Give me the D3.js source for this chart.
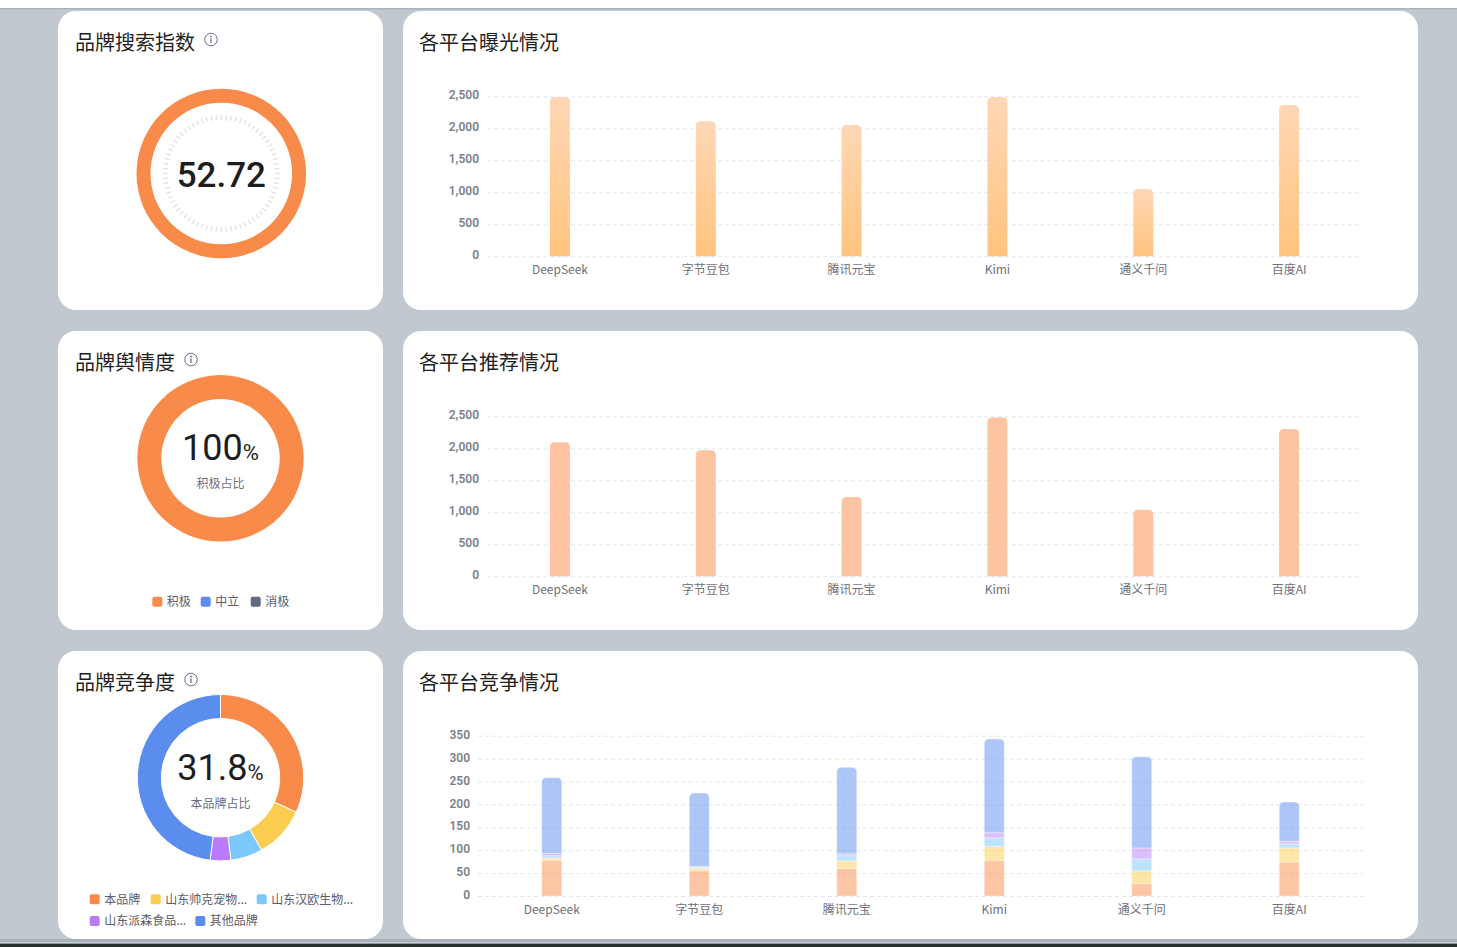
<!DOCTYPE html>
<html><head><meta charset="utf-8">
<script src="https://cdn.jsdelivr.net/npm/d3@7"></script>
<style>body{margin:0;background:#c1c8d0;overflow:hidden} svg{display:block}</style>
</head><body>
<svg id="c" width="1457" height="947"></svg>
<script>
// ---------- data ----------
const platforms = ["DeepSeek", "字节豆包", "腾讯元宝", "Kimi", "通义千问", "百度AI"];
const exposure = [2490, 2110, 2050, 2490, 1050, 2365];
const recommend = [2095, 1970, 1240, 2480, 1040, 2300];
const countTicks = [0, 500, 1000, 1500, 2000, 2500];
const compTicks = [0, 50, 100, 150, 200, 250, 300, 350];
const brandNames = ["本品牌", "山东帅克宠物...", "山东汉欧生物...", "山东派森食品...", "其他品牌"];
const compOwn = [78, 55, 60, 78, 27, 74];
const compShuaike = [5, 5, 17, 30, 28, 31];
const compHanou = [5, 3, 11, 19, 26, 9];
const compPaisen = [5, 2, 4, 11, 24, 5];
const compOther = [166, 160, 189, 205, 199, 86];
const competitionShare = [31.8, 10.0, 6.2, 4.0, 48.0];
const sentimentNames = ["积极", "中立", "消极"];
const sentimentValues = [100, 0, 0];
const searchIndex = 52.72;
const titles = ["品牌搜索指数", "各平台曝光情况", "品牌舆情度", "各平台推荐情况", "品牌竞争度", "各平台竞争情况"];

// ---------- styles ----------
const CJK = '"Noto Sans CJK SC","Noto Sans",sans-serif';
const NUM = 'Roboto,"Noto Sans",sans-serif';
const brandColors = ["#F98B4A", "#FACC50", "#7CC7FC", "#B87BFA", "#5B8DEF"];
const sentimentColors = ["#F98B4A", "#5B8DEF", "#646A84"];

const svg = d3.select('#c');
svg.append('rect').attr('width', 1457).attr('height', 947).attr('fill', '#c1c8d0');
svg.append('rect').attr('width', 1457).attr('height', 8).attr('fill', '#ffffff');
svg.append('rect').attr('y', 8).attr('width', 1457).attr('height', 1.5).attr('fill', '#aab2bd');
svg.append('rect').attr('y', 939).attr('width', 1457).attr('height', 3.6).attr('fill', '#a9b1bc');
svg.append('rect').attr('y', 942.6).attr('width', 1457).attr('height', 1).attr('fill', '#e9edf0');
svg.append('rect').attr('y', 943.6).attr('width', 1457).attr('height', 4).attr('fill', '#26302c');

const defs = svg.append('defs');
const grad = defs.append('linearGradient').attr('id', 'expGrad').attr('x1', 0).attr('y1', 0).attr('x2', 0).attr('y2', 1);
grad.append('stop').attr('offset', '0%').attr('stop-color', '#FFD7B6');
grad.append('stop').attr('offset', '100%').attr('stop-color', '#FFC47E');

function card(x, y, w, h) {
  svg.append('rect').attr('x', x).attr('y', y).attr('width', w).attr('height', h)
    .attr('rx', 18).attr('ry', 18).attr('fill', '#ffffff');
}
function title(x, y, txt, info) {
  const t = svg.append('text').attr('x', x).attr('y', y).attr('font-family', CJK)
    .attr('font-size', 20).attr('fill', '#1f1f1f').text(txt);
  if (info) {
    const w = t.node().getComputedTextLength();
    const cx = x + w + 16, cy = y - 10.5;
    const g = svg.append('g');
    g.append('circle').attr('cx', cx).attr('cy', cy).attr('r', 6.3).attr('fill', 'none')
      .attr('stroke', '#6b7085').attr('stroke-width', 1);
    g.append('circle').attr('cx', cx).attr('cy', cy - 3).attr('r', 0.9).attr('fill', '#6b7085');
    g.append('line').attr('x1', cx).attr('x2', cx).attr('y1', cy - 1).attr('y2', cy + 3.6)
      .attr('stroke', '#6b7085').attr('stroke-width', 1.3);
  }
}

// cards
const rows = [[11, 299], [331, 299], [651, 288]];
rows.forEach(r => { card(58, r[0], 325, r[1]); card(403, r[0], 1015, r[1]); });

title(75, 50, titles[0], true);
title(419, 50, titles[1], false);
title(75, 370, titles[2], true);
title(419, 370, titles[3], false);
title(75, 690, titles[4], true);
title(419, 690, titles[5], false);

// ---------- bar charts ----------
function topRoundedPath(x, y, w, h, r) {
  r = Math.min(r, h, w / 2);
  return `M${x},${y + h}V${y + r}Q${x},${y} ${x + r},${y}H${x + w - r}Q${x + w},${y} ${x + w},${y + r}V${y + h}Z`;
}
function axesFrame(left, right, zero, top, maxV, ticks, fmt) {
  const y = d3.scaleLinear().domain([0, maxV]).range([zero, top]);
  const x = d3.scaleBand().domain(platforms).range([left, right]).padding(0);
  const g = svg.append('g');
  const yAxis = d3.axisLeft(y).tickValues(ticks).tickFormat(fmt).tickSize(-(right - left)).tickPadding(8);
  const ga = g.append('g').attr('transform', `translate(${left},0)`).call(yAxis);
  ga.select('.domain').remove();
  ga.selectAll('.tick line').attr('stroke', '#e0e6f1').attr('stroke-dasharray', '4 3');
  ga.selectAll('.tick text').attr('font-family', NUM).attr('font-size', 12).attr('font-weight', 600)
    .attr('fill', '#7b7f8c').attr('dy', '0.22em');
  const xAxis = d3.axisBottom(x).tickSize(0).tickPadding(9);
  const gx = g.append('g').attr('transform', `translate(0,${zero})`).call(xAxis);
  gx.select('.domain').remove();
  gx.selectAll('.tick text').attr('font-family', CJK).attr('font-size', 12).attr('fill', '#6e7079');
  return { x, y };
}
function simpleBars(left, right, zero, top, values, fill) {
  const { x, y } = axesFrame(left, right, zero, top, 2500, countTicks, d3.format(','));
  const bw = 20;
  svg.append('g').selectAll('path').data(values).join('path')
    .attr('d', (d, i) => topRoundedPath(x(platforms[i]) + x.bandwidth() / 2 - bw / 2, y(d), bw, y(0) - y(d), 5))
    .attr('fill', fill);
}
simpleBars(487, 1362, 256.3, 96.3, exposure, 'url(#expGrad)');
simpleBars(487, 1362, 576.3, 416.3, recommend, '#FCC4A2');

// stacked competition chart
(function () {
  const { x, y } = axesFrame(478, 1363, 896, 735.7, 350, compTicks, d3.format('d'));
  const rowsData = platforms.map((p, i) => ({
    p, s0: compOwn[i], s1: compShuaike[i], s2: compHanou[i], s3: compPaisen[i], s4: compOther[i]
  }));
  const keys = ['s0', 's1', 's2', 's3', 's4'];
  const stack = d3.stack().keys(keys)(rowsData);
  const bw = 20;
  const g = svg.append('g');
  stack.forEach((layer, li) => {
    g.append('g').selectAll('path').data(layer).join('path')
      .attr('d', d => {
        const x0 = x(d.data.p) + x.bandwidth() / 2 - bw / 2;
        const y1 = y(d[1]), y0 = y(d[0]);
        if (li === keys.length - 1) return topRoundedPath(x0, y1, bw, y0 - y1, 5);
        return `M${x0},${y0}V${y1}H${x0 + bw}V${y0}Z`;
      })
      .attr('fill', brandColors[li]).attr('fill-opacity', 0.5)
      .attr('stroke', '#ffffff').attr('stroke-width', 0.4);
  });
})();

// ---------- gauge ----------
(function () {
  const cx = 221.3, cy = 173.5;
  const g = svg.append('g').attr('transform', `translate(${cx},${cy})`);
  g.append('path').attr('d', d3.arc().innerRadius(70.8).outerRadius(84.8).startAngle(0).endAngle(2 * Math.PI)())
    .attr('fill', '#F98B4A');
  const ticks = d3.range(72);
  g.selectAll('line.tk').data(ticks).join('line').attr('class', 'tk')
    .attr('x1', d => Math.sin(d / 72 * 2 * Math.PI) * 53.5)
    .attr('y1', d => -Math.cos(d / 72 * 2 * Math.PI) * 53.5)
    .attr('x2', d => Math.sin(d / 72 * 2 * Math.PI) * 58.5)
    .attr('y2', d => -Math.cos(d / 72 * 2 * Math.PI) * 58.5)
    .attr('stroke', '#e2e2e4').attr('stroke-width', 1.4);
  g.append('text').attr('x', 0).attr('y', 13).attr('text-anchor', 'middle')
    .attr('font-family', NUM).attr('font-weight', 500).attr('font-size', 35).attr('fill', '#1d1d1f')
    .text(searchIndex.toFixed(2));
})();

// ---------- donuts ----------
function donut(cx, cy, values, colors, mainTxt, subTxt, baseY, subY) {
  const g = svg.append('g').attr('transform', `translate(${cx},${cy})`);
  const pie = d3.pie().sort(null).value(d => d)(values);
  const arc = d3.arc().innerRadius(59.2).outerRadius(83.2);
  g.selectAll('path').data(pie.filter(d => d.value > 0)).join('path')
    .attr('d', arc).attr('fill', d => colors[d.index])
    .attr('stroke', '#ffffff').attr('stroke-width', values.filter(v => v > 0).length > 1 ? 1 : 0);
  const t = g.append('text').attr('x', 0).attr('y', baseY).attr('text-anchor', 'middle')
    .attr('font-family', NUM).attr('fill', '#1d1d1f');
  t.append('tspan').attr('font-size', 36).text(mainTxt);
  t.append('tspan').attr('font-size', 22).text('%');
  g.append('text').attr('x', 0).attr('y', subY).attr('text-anchor', 'middle')
    .attr('font-family', CJK).attr('font-size', 12).attr('fill', '#6b6f86').text(subTxt);
}
donut(220.5, 458.3, sentimentValues, sentimentColors, String(sentimentValues[0]), '积极占比', 1.5, 29.5);
donut(220.5, 777.7, competitionShare, brandColors, competitionShare[0].toFixed(1), '本品牌占比', 2.3, 30);

// legends
function legendItem(x, y, color, label) {
  svg.append('rect').attr('x', x).attr('y', y - 5).attr('width', 10).attr('height', 10)
    .attr('rx', 2).attr('fill', color);
  svg.append('text').attr('x', x + 14.5).attr('y', y + 4.3).attr('font-family', CJK)
    .attr('font-size', 12).attr('fill', '#5a5d6b').text(label);
}
const sentLegendX = [152.3, 200.7, 250.7];
sentimentNames.forEach((n, i) => legendItem(sentLegendX[i], 601.7, sentimentColors[i], n));
const brandLegendPos = [[89.7, 899.3], [150.7, 899.3], [256.7, 899.3], [89.7, 921], [195.3, 921]];
brandNames.forEach((n, i) => legendItem(brandLegendPos[i][0], brandLegendPos[i][1], brandColors[i], n));
</script>
</body></html>
